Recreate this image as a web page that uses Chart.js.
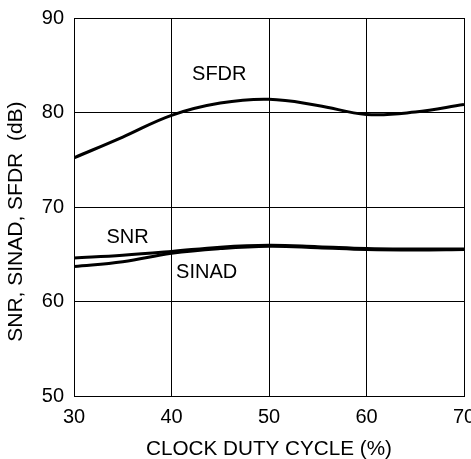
<!DOCTYPE html>
<html>
<head>
<meta charset="utf-8">
<script src="https://cdn.jsdelivr.net/npm/chart.js@4/dist/chart.umd.min.js"></script>
<style>
  html, body { margin: 0; padding: 0; background: #fff; overflow: hidden; }
  #wrap { width: 471px; height: 459px; }
</style>
</head>
<body>
<div id="wrap"><canvas id="c" width="471" height="459"></canvas></div>
<script>
// Data
const dutyCycle = [30, 35, 40, 45, 50, 55, 60, 65, 70];
const sfdr  = [75.2, 77.4, 79.7, 81.0, 81.4, 80.75, 79.8, 80.05, 80.85];
const snr   = [64.6, 64.9, 65.3, 65.75, 65.95, 65.8, 65.6, 65.55, 65.55];
const sinad = [63.7, 64.2, 65.1, 65.6, 65.85, 65.7, 65.5, 65.45, 65.5];
const xTicks = [30, 40, 50, 60, 70];
const yTicks = [50, 60, 70, 80, 90];
const curveNames = ['SFDR', 'SNR', 'SINAD'];
const curveLabelX = [44.9, 35.5, 43.6];
const curveLabelY = [84.0, 66.8, 63.1];

const FONT = "'Liberation Sans', Arial, Helvetica, sans-serif";

function pts(ys) { return dutyCycle.map((x, i) => ({ x: x, y: ys[i] })); }

const labelPlugin = {
  id: 'curveLabels',
  afterDatasetsDraw(chart) {
    const ctx = chart.ctx, xs = chart.scales.x, ys = chart.scales.y;
    ctx.save();
    ctx.fillStyle = '#000';
    ctx.font = '20px ' + FONT;
    ctx.textAlign = 'center';
    ctx.textBaseline = 'middle';
    curveNames.forEach((n, i) => {
      ctx.fillText(n, xs.getPixelForValue(curveLabelX[i]), ys.getPixelForValue(curveLabelY[i]));
    });
    ctx.restore();
  }
};

const lineStyle = { borderColor: '#000', borderWidth: 3, pointRadius: 0, tension: 0.4, fill: false };

new Chart(document.getElementById('c'), {
  type: 'line',
  data: {
    datasets: [
      Object.assign({ label: 'SFDR', data: pts(sfdr) }, lineStyle),
      Object.assign({ label: 'SNR', data: pts(snr) }, lineStyle),
      Object.assign({ label: 'SINAD', data: pts(sinad) }, lineStyle)
    ]
  },
  options: {
    responsive: false,
    animation: false,
    events: [],
    layout: { padding: { left: 0, right: 7, top: 18, bottom: 0 } },
    plugins: { legend: { display: false }, tooltip: { enabled: false } },
    scales: {
      x: {
        type: 'linear',
        min: 30, max: 70,
        afterBuildTicks: (s) => { s.ticks = xTicks.map(v => ({ value: v })); },
        afterFit: (s) => { s.height = 63; s.paddingLeft = 0; s.paddingRight = 0; },
        ticks: { color: '#000', font: { family: FONT, size: 20 }, padding: 9, maxRotation: 0, autoSkip: false },
        grid: { color: '#000', lineWidth: 1, drawTicks: false },
        border: { color: '#000', width: 1 },
        title: { display: true, text: 'CLOCK DUTY CYCLE (%)', color: '#000', font: { family: FONT, size: 20.7 }, padding: { top: 0, bottom: -3 } }
      },
      y: {
        type: 'linear',
        min: 50, max: 90,
        afterBuildTicks: (s) => { s.ticks = yTicks.map(v => ({ value: v })); },
        afterFit: (s) => { s.width = 74; s.paddingTop = 0; s.paddingBottom = 0; },
        ticks: { color: '#000', font: { family: FONT, size: 20 }, padding: 10 },
        grid: { color: '#000', lineWidth: 1, drawTicks: false },
        border: { color: '#000', width: 1 },
        title: { display: true, text: 'SNR, SINAD, SFDR  (dB)     ', color: '#000', font: { family: FONT, size: 21 }, padding: { top: 4, bottom: 0 } }
      }
    }
  },
  plugins: [labelPlugin]
});
</script>
</body>
</html>
